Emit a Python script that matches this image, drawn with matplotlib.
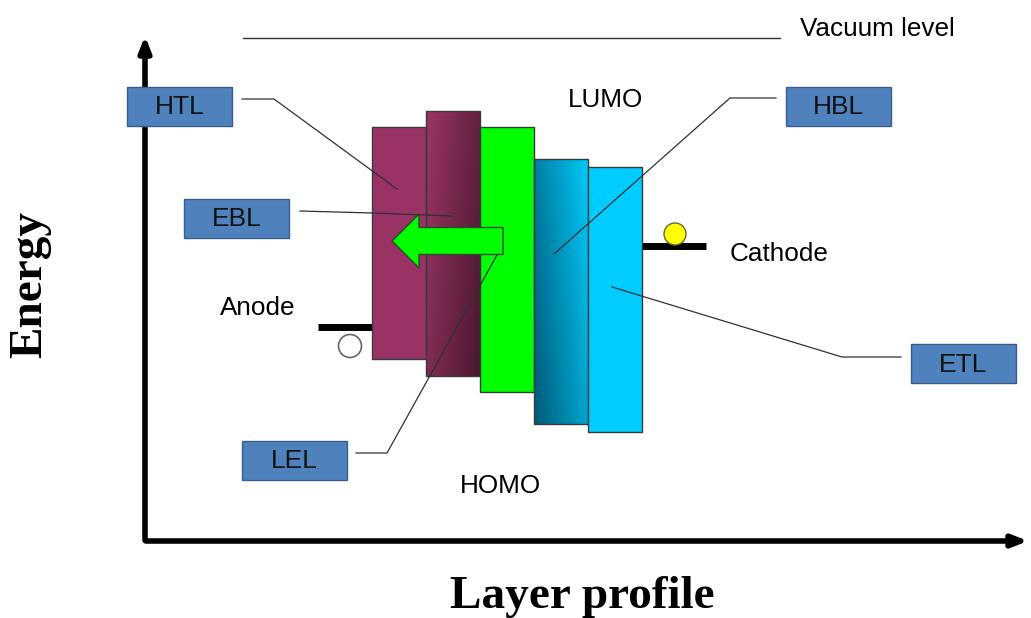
import numpy as np
import matplotlib.pyplot as plt
from matplotlib.patches import Rectangle, Polygon, Circle
from matplotlib.colors import LinearSegmentedColormap

# ---------------- layer stack (pixel space, y downward) ----------------
layer_names = ['HTL', 'EBL', 'LEL', 'HBL', 'ETL']
layer_left = [372, 426, 480, 534, 588]
layer_width = 54
layer_top = [127, 111, 127, 159, 167]
layer_bottom = [359, 376, 392, 424, 432]
layer_color = ['#993366', None, '#00ff00', None, '#00ccff']
# gradient layers: (light, dark)
grad = {'EBL': ('#9b3566', '#4a1830'), 'HBL': ('#00c8f8', '#005a78')}

# label boxes: x, y (top-left), leader line points
box_names = ['HTL', 'EBL', 'LEL', 'HBL', 'ETL']
box_x = [127, 184, 242, 786, 911]
box_y = [87, 199, 441, 87, 344]
box_w, box_h = 105, 39
leader_x = [[242, 274, 397], [300, 373, 452], [356, 387, 497], [776, 730, 554], [901, 842, 612]]
leader_y = [[99, 99, 189], [211, 213, 216], [453, 453, 255], [98, 98, 254], [357, 357, 287]]

fig = plt.figure(figsize=(10.31, 6.18), dpi=100)
ax = fig.add_axes([0, 0, 1, 1])
ax.set_xlim(0, 1031)
ax.set_ylim(618, 0)
ax.axis('off')

for i, name in enumerate(layer_names):
    x0, x1 = layer_left[i], layer_left[i] + layer_width
    y0, y1 = layer_top[i], layer_bottom[i]
    if name in grad:
        cmap = LinearSegmentedColormap.from_list(name, [grad[name][0], grad[name][1]])
        xx, yy = np.meshgrid(np.linspace(0, 1, 60), np.linspace(0, 1, 200))
        if name == 'EBL':
            z = 0.75 * xx + 0.35 * yy
        else:
            z = 0.8 * (1 - xx) + 0.4 * yy
        z = np.clip(z / z.max(), 0, 1)
        ax.imshow(z, cmap=cmap, extent=(x0, x1, y1, y0), aspect='auto', zorder=2,
                  interpolation='bilinear')
        ax.add_patch(Rectangle((x0, y0), layer_width, y1 - y0, fill=False,
                               ec='#3a3a3a', lw=1, zorder=3))
    else:
        ax.add_patch(Rectangle((x0, y0), layer_width, y1 - y0, fc=layer_color[i],
                               ec='#3a3a3a', lw=1, zorder=3))

# green arrow (pointing left)
arrow_tail, arrow_neck, arrow_tip = 503, 419, 392
arrow_mid, body_half, head_half = 241, 13.5, 27
ax.add_patch(Polygon([(arrow_tail, arrow_mid - body_half), (arrow_neck, arrow_mid - body_half),
                      (arrow_neck, arrow_mid - head_half), (arrow_tip, arrow_mid),
                      (arrow_neck, arrow_mid + head_half), (arrow_neck, arrow_mid + body_half),
                      (arrow_tail, arrow_mid + body_half)],
                     closed=True, fc='#00ff00', ec='#2a4a2a', lw=1, zorder=5))

# leader lines
for lx, ly in zip(leader_x, leader_y):
    ax.plot(lx, ly, color='#303030', lw=0.9, zorder=6)

# label boxes
for name, bx, by in zip(box_names, box_x, box_y):
    ax.add_patch(Rectangle((bx, by), box_w, box_h, fc='#4f81bd', ec='#385d8a', lw=1, zorder=7))
    ax.text(bx + box_w / 2, by + box_h / 2 + 1, name, ha='center', va='center',
            fontsize=19, family='Liberation Sans', color='#111111', zorder=8)

# axes arrows
ax.annotate('', xy=(145, 33), xytext=(145, 543),
            arrowprops=dict(arrowstyle='-|>,head_length=0.9,head_width=0.35', lw=4, color='black'))
ax.annotate('', xy=(1031, 541), xytext=(143, 541),
            arrowprops=dict(arrowstyle='-|>,head_length=0.9,head_width=0.35', lw=4, color='black'))

# vacuum level
ax.plot([243, 780], [38, 38], color='#333333', lw=1)
ax.text(800, 29, 'Vacuum level', fontsize=18.8, family='Liberation Sans', va='center')

# electrodes
ax.plot([318, 372], [327, 327], color='black', lw=5, solid_capstyle='butt')
ax.add_patch(Circle((350, 346), 11.5, fc='white', ec='#666666', lw=1.2, zorder=4))
ax.plot([642, 706], [246, 246], color='black', lw=5, solid_capstyle='butt')
ax.add_patch(Circle((675, 234), 11, fc='#ffff00', ec='#666633', lw=1, zorder=4))
ax.text(220, 308, 'Anode', fontsize=18.8, family='Liberation Sans', va='center')
ax.text(730, 254, 'Cathode', fontsize=18.8, family='Liberation Sans', va='center')
ax.text(605, 100, 'LUMO', fontsize=18.8, family='Liberation Sans', ha='center', va='center')
ax.text(500, 486, 'HOMO', fontsize=18.8, family='Liberation Sans', ha='center', va='center')

# axis titles
ax.text(30, 284, 'Energy', fontsize=34, family='Liberation Serif', weight='bold',
        rotation=90, ha='center', va='center')
ax.text(582, 597, 'Layer profile', fontsize=34, family='Liberation Serif', weight='bold',
        ha='center', va='center')

fig.savefig('out.png', dpi=100)
